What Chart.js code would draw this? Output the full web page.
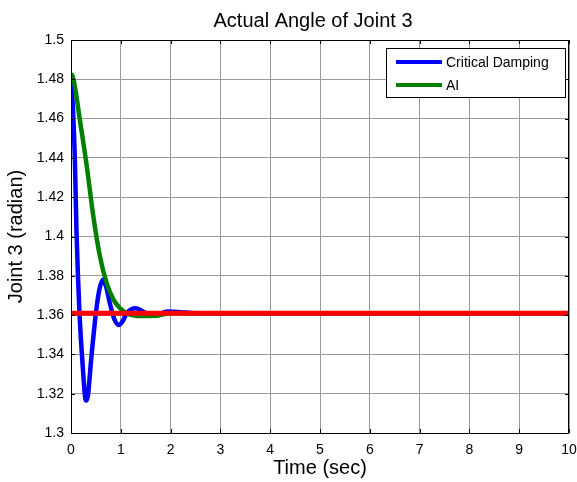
<!DOCTYPE html>
<html>
<head>
<meta charset="utf-8">
<script src="https://cdn.jsdelivr.net/npm/chart.js@4"></script>
<style>
  html, body { margin: 0; padding: 0; background: #fff; }
  #jointChart { display: block; }
</style>
</head>
<body>
<canvas id="jointChart" width="577" height="482"></canvas>
<script>
// time / angle samples for each controller
const timeCritical = [0, 0.04, 0.08, 0.11, 0.14, 0.17, 0.23, 0.30, 0.34, 0.40, 0.50, 0.57, 0.64, 0.71, 0.78, 0.87, 0.96, 1.04, 1.12, 1.30, 1.52, 1.72, 1.95, 2.2, 2.5, 10];
const angleCritical = [1.482, 1.465, 1.437, 1.403, 1.380, 1.361, 1.336, 1.3165, 1.319, 1.336, 1.361, 1.373, 1.378, 1.374, 1.366, 1.358, 1.355, 1.357, 1.361, 1.3635, 1.361, 1.3605, 1.3618, 1.3615, 1.361, 1.361];

const timeAI = [0, 0.04, 0.08, 0.18, 0.31, 0.45, 0.58, 0.72, 0.85, 0.98, 1.12, 1.32, 1.72, 2.0, 10];
const angleAI = [1.483, 1.481, 1.476, 1.459, 1.437, 1.410, 1.390, 1.376, 1.368, 1.3636, 1.361, 1.3596, 1.3597, 1.361, 1.361];

const timeRef = [0, 10];
const angleRef = [1.361, 1.361];

const xTicks = [0, 1, 2, 3, 4, 5, 6, 7, 8, 9, 10];
const yTicks = [1.3, 1.32, 1.34, 1.36, 1.38, 1.4, 1.42, 1.44, 1.46, 1.48, 1.5];

const FONT = 'Liberation Sans, Arial, sans-serif';

const toPoints = (xs, ys) => xs.map((x, i) => ({ x: x, y: ys[i] }));

// title, frame, inward ticks and the boxed legend
const framePlugin = {
  id: 'frame',
  afterDraw(chart) {
    const { ctx, chartArea: a, scales } = chart;
    ctx.save();
    ctx.fillStyle = '#000';
    ctx.font = '20px ' + FONT;
    ctx.textAlign = 'center';
    ctx.textBaseline = 'middle';
    ctx.fillText('Actual Angle of Joint 3', (a.left + a.right) / 2 - 7, 21);

    ctx.strokeStyle = '#000';
    ctx.lineWidth = 1;
    ctx.strokeRect(a.left + 0.5, a.top + 0.5, a.right - a.left - 1, a.bottom - a.top);

    const len = 4;
    ctx.beginPath();
    xTicks.forEach(v => {
      const px = Math.round(scales.x.getPixelForValue(v)) + 0.5;
      ctx.moveTo(px, a.bottom); ctx.lineTo(px, a.bottom - len);
      ctx.moveTo(px, a.top); ctx.lineTo(px, a.top + len);
    });
    yTicks.forEach(v => {
      const py = Math.round(scales.y.getPixelForValue(v)) + 0.5;
      ctx.moveTo(a.left, py); ctx.lineTo(a.left + len, py);
      ctx.moveTo(a.right, py); ctx.lineTo(a.right - len, py);
    });
    ctx.stroke();

    // legend box
    const items = chart.data.datasets.filter(d => d.showInLegend).reverse();
    const bx = 386, by = 48, bw = 179, bh = 49;
    ctx.fillStyle = '#fff';
    ctx.fillRect(bx, by, bw, bh);
    ctx.strokeRect(bx + 0.5, by + 0.5, bw, bh);
    ctx.font = '14px ' + FONT;
    ctx.textAlign = 'left';
    items.forEach((d, i) => {
      const y = by + 14 + i * 23;
      ctx.strokeStyle = d.borderColor;
      ctx.lineWidth = 4;
      ctx.beginPath();
      ctx.moveTo(bx + 10, y);
      ctx.lineTo(bx + 56, y);
      ctx.stroke();
      ctx.fillStyle = '#000';
      ctx.fillText(d.label, bx + 60, y + 1);
    });
    ctx.restore();
  }
};

new Chart(document.getElementById('jointChart'), {
  type: 'line',
  data: {
    datasets: [
      {
        label: 'Reference',
        data: toPoints(timeRef, angleRef),
        borderColor: '#ff0000',
        borderWidth: 5,
        pointRadius: 0,
        showInLegend: false
      },
      {
        label: 'AI',
        data: toPoints(timeAI, angleAI),
        borderColor: '#008000',
        borderWidth: 4.5,
        pointRadius: 0,
        cubicInterpolationMode: 'monotone',
        showInLegend: true
      },
      {
        label: 'Critical Damping',
        data: toPoints(timeCritical, angleCritical),
        borderColor: '#0000ff',
        borderWidth: 4.5,
        pointRadius: 0,
        cubicInterpolationMode: 'monotone',
        showInLegend: true
      }
    ]
  },
  options: {
    responsive: false,
    animation: false,
    layout: { padding: { top: 40, right: 0, left: 0, bottom: 0 } },
    plugins: {
      legend: { display: false },
      title: { display: false },
      tooltip: { enabled: false }
    },
    scales: {
      x: {
        type: 'linear',
        min: 0,
        max: 10,
        afterBuildTicks: s => { s.ticks = xTicks.map(v => ({ value: v })); },
        afterFit: s => { s.height = 49; s.paddingRight = 8; },
        grid: { color: '#9a9a9a', lineWidth: 1, drawTicks: false },
        border: { display: false },
        ticks: { color: '#000', padding: 9, font: { family: FONT, size: 14 }, maxRotation: 0 },
        title: { display: true, text: 'Time (sec)', color: '#000', font: { family: FONT, size: 20 }, padding: { top: 0, bottom: 2 } }
      },
      y: {
        min: 1.3,
        max: 1.5,
        afterBuildTicks: s => { s.ticks = yTicks.map(v => ({ value: v })); },
        afterFit: s => { s.width = 71; },
        grid: { color: '#9a9a9a', lineWidth: 1, drawTicks: false },
        border: { display: false },
        ticks: { color: '#000', padding: 7, font: { family: FONT, size: 14 }, callback: v => String(+v.toFixed(2)) },
        title: { display: true, text: 'Joint 3 (radian)', color: '#000', font: { family: FONT, size: 20 }, padding: { top: 4, bottom: 0 } }
      }
    }
  },
  plugins: [framePlugin]
});
</script>
</body>
</html>
